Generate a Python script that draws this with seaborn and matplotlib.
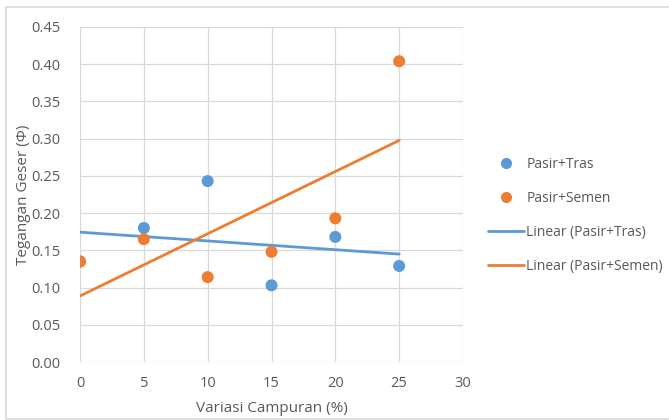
import matplotlib
matplotlib.use("Agg")
import matplotlib.pyplot as plt
import seaborn as sns
import pandas as pd
from matplotlib.lines import Line2D
from matplotlib.patches import Rectangle

# Mix variation (%) and shear stress for the two mixtures
campuran = [0, 5, 10, 15, 20, 25]
pasir_tras = [0.135, 0.180, 0.243, 0.103, 0.168, 0.129]
pasir_semen = [0.135, 0.165, 0.114, 0.148, 0.193, 0.404]

x_ticks = [0, 5, 10, 15, 20, 25, 30]
y_ticks = [0.00, 0.05, 0.10, 0.15, 0.20, 0.25, 0.30, 0.35, 0.40, 0.45]

BLUE = "#5B9BD5"
ORANGE = "#ED7D31"
TEXT = "#595959"
GRID = "#D9D9D9"

sns.set_theme(style="white")
plt.rcParams["font.family"] = ["Open Sans", "DejaVu Sans"]

df_tras = pd.DataFrame({"x": campuran, "y": pasir_tras})
df_semen = pd.DataFrame({"x": campuran, "y": pasir_semen})

fig = plt.figure(figsize=(6.69, 4.20), dpi=100)
ax = fig.add_axes([80 / 669, 58 / 420, 383 / 669, 335 / 420])

# Linear trend lines
sns.regplot(data=df_tras, x="x", y="y", ax=ax, scatter=False, ci=None,
            color=BLUE, line_kws={"lw": 2.0, "zorder": 2})
sns.regplot(data=df_semen, x="x", y="y", ax=ax, scatter=False, ci=None,
            color=ORANGE, line_kws={"lw": 2.0, "zorder": 2})

# Measured points
sns.scatterplot(data=df_tras, x="x", y="y", ax=ax, color=BLUE, s=75,
                edgecolor="none", zorder=3, legend=False)
sns.scatterplot(data=df_semen, x="x", y="y", ax=ax, color=ORANGE, s=75,
                edgecolor="none", zorder=4, legend=False)

ax.set_xlim(0, 30)
ax.set_ylim(0, 0.45)
ax.set_xticks(x_ticks)
ax.set_xticklabels([str(v) for v in x_ticks])
ax.set_yticks(y_ticks)
ax.set_yticklabels([f"{v:.2f}" for v in y_ticks])
ax.grid(True, color=GRID, lw=0.9)
ax.set_axisbelow(True)
for side in ["left", "right", "top", "bottom"]:
    ax.spines[side].set_visible(False)
ax.tick_params(axis="both", length=0, labelsize=10.5, colors=TEXT)
ax.tick_params(axis="y", pad=14)
ax.tick_params(axis="x", pad=10)

ax.set_xlabel("Variasi Campuran (%)", fontsize=11, color=TEXT, labelpad=7)
ax.set_ylabel("Tegangan Geser (\u03a6)", fontsize=11, color=TEXT, labelpad=0)

handles = [
    Line2D([], [], ls="none", marker="o", ms=8, color=BLUE, mec="none"),
    Line2D([], [], ls="none", marker="o", ms=8, color=ORANGE, mec="none"),
    Line2D([], [], color=BLUE, lw=2),
    Line2D([], [], color=ORANGE, lw=2),
]
labels = ["Pasir+Tras", "Pasir+Semen", "Linear (Pasir+Tras)", "Linear (Pasir+Semen)"]
fig.legend(handles, labels, loc="upper left", bbox_to_anchor=(482 / 669, 1 - 151 / 420),
           frameon=False, fontsize=10, labelcolor=TEXT, handlelength=2.6,
           handletextpad=0.2, labelspacing=1.38, borderaxespad=0)

# Chart border
fig.patches.append(Rectangle((6 / 669, 1 / 420), 670 / 669, 412 / 420,
                             transform=fig.transFigure, fill=False,
                             edgecolor=GRID, lw=1.2))

fig.savefig("out.png", dpi=100)
